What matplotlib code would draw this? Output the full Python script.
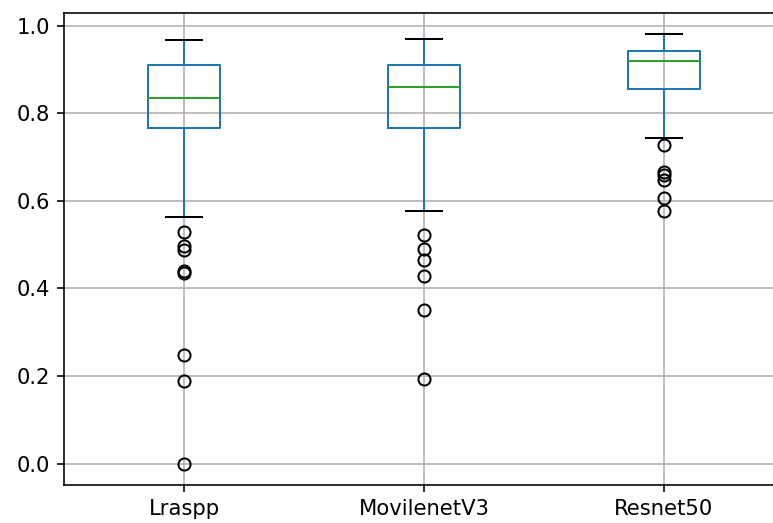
import matplotlib
matplotlib.use("Agg")
import matplotlib.pyplot as plt

labels = ["Lraspp", "MovilenetV3", "Resnet50"]
whislo = [0.563, 0.577, 0.743]
q1 = [0.767, 0.767, 0.855]
med = [0.836, 0.860, 0.920]
q3 = [0.911, 0.911, 0.943]
whishi = [0.968, 0.969, 0.980]
fliers = [
    [0.529, 0.497, 0.488, 0.440, 0.435, 0.247, 0.188, 0.0],
    [0.522, 0.490, 0.465, 0.429, 0.350, 0.192],
    [0.727, 0.667, 0.659, 0.648, 0.606, 0.577],
]

stats = []
for i, lab in enumerate(labels):
    stats.append(dict(label=lab, whislo=whislo[i], q1=q1[i], med=med[i],
                      q3=q3[i], whishi=whishi[i], fliers=fliers[i]))

dpi = 145
fig = plt.figure(figsize=(773 / dpi, 523 / dpi), dpi=dpi)
ax = fig.add_axes([64 / 773, 38 / 523, 720 / 773, 472 / 523])
ax.patch.set_edgecolor("none")
ax.patch.set_linewidth(0)

ax.bxp(stats, widths=0.3,
       boxprops=dict(color="C0"),
       whiskerprops=dict(color="C0"),
       medianprops=dict(color="C2"),
       capprops=dict(color="k"),
       flierprops=dict(marker="o", markerfacecolor="none", markeredgecolor="k"))

ax.set_xlim(0.5, 3.5)
ax.set_ylim(-0.049, 1.029)
ax.set_yticks([0.0, 0.2, 0.4, 0.6, 0.8, 1.0])
ax.tick_params(labelsize=10.5)
ax.spines["right"].set_visible(False)
ax.grid(True, color="#b0b0b0", linewidth=0.8)
ax.set_axisbelow(True)

fig.savefig("out.png", dpi=dpi)
